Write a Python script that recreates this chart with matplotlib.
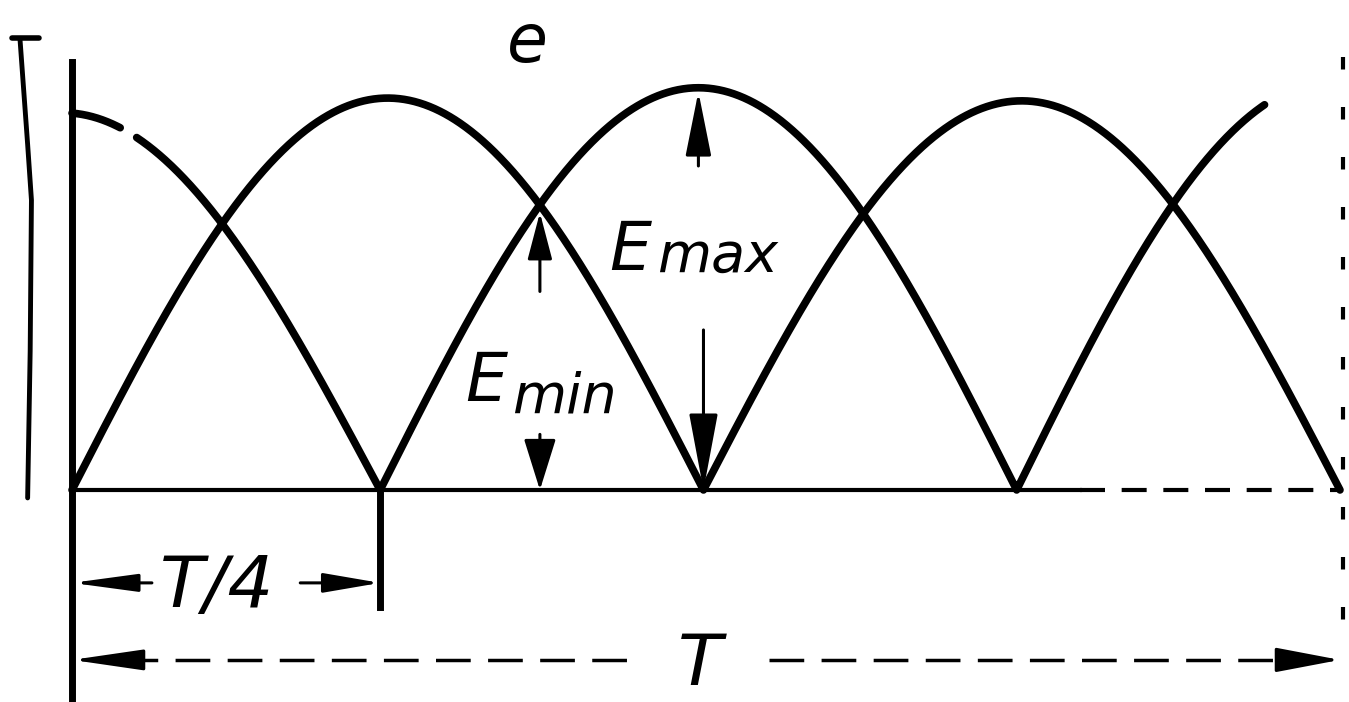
import numpy as np
import matplotlib
matplotlib.use("Agg")
import matplotlib.pyplot as plt

# two rectified phases, time in units of T, voltage in units of Emax
phase_a_zeros = [-0.257, 0.243, 0.745, 1.245]
phase_a_peaks = [0.95, 1.013, 1.03]
phase_b_zeros = [0.0, 0.498, 1.0]
phase_b_peaks = [0.987, 0.98]
phase_a_shown = (0.0, 0.941)
phase_a_gap = (0.038, 0.051)

quarter_label = "T/4"
period_label = "T"
axis_label = "e"


def lobes(t, zeros, peaks):
    e = np.full_like(t, np.nan)
    for a, b, p in zip(zeros[:-1], zeros[1:], peaks):
        m = (t >= a) & (t <= b)
        e[m] = p * np.sin(np.pi * (t[m] - a) / (b - a))
    return e


def arrow(ax, tip, tail, hl, hw, lw=2.2):
    ax.annotate("", xy=tip, xytext=tail,
                arrowprops=dict(arrowstyle=f"-|>,head_length={hl},head_width={hw}",
                                color="black", lw=lw, shrinkA=0, shrinkB=0,
                                mutation_scale=20))


fig = plt.figure(figsize=(13.49, 7.02), dpi=100)
ax = fig.add_axes([0, 0, 1, 1])
ax.set_xlim(-0.0568, 1.0071)
ax.set_ylim(-0.534, 1.234)
ax.axis("off")

ink = dict(color="black", solid_capstyle="round")

# curves
t = np.linspace(0, 1, 2001)
ea = lobes(t, phase_a_zeros, phase_a_peaks)
ea[(t < phase_a_shown[0]) | (t > phase_a_shown[1])] = np.nan
ea[(t > phase_a_gap[0]) & (t < phase_a_gap[1])] = np.nan
eb = lobes(t, phase_b_zeros, phase_b_peaks)
ax.plot(t, ea, lw=5.5, **ink)
ax.plot(t, eb, lw=5.5, **ink)

# e axis and time axis
ax.plot([0, 0], [1.078, -0.6], lw=5, color="black")
ax.plot([0, 0.795], [0, 0], lw=3, color="black")
ax.plot([0.795, 1.0], [0, 0], lw=3, color="black", dashes=(6, 4))

# ruled edges of the sheet
ax.plot([-0.047, -0.026], [1.139, 1.139], lw=4, **ink)
ax.plot([-0.041, -0.035, -0.032, -0.033, -0.035],
        [1.134, 0.87, 0.73, 0.35, -0.02], lw=3.5, **ink)
ax.plot([1.002, 1.002], [1.09, -0.4], lw=3, color="black", dashes=(3, 9))

# Emax / Emin
cross = np.nanargmin(np.where((t > 0.3) & (t < 0.45), np.abs(ea - eb), np.inf))
t_cross, e_cross = t[cross], max(ea[cross], eb[cross])
peak_t = (phase_a_zeros[1] + phase_a_zeros[2]) / 2
arrow(ax, (peak_t, phase_a_peaks[1] - 0.01), (peak_t, 0.816), 2.0, 0.4)
arrow(ax, (phase_b_zeros[1], 0.0), (phase_b_zeros[1], 0.403), 2.4, 0.45)
arrow(ax, (t_cross, e_cross - 0.02), (t_cross, 0.5), 1.45, 0.38)
arrow(ax, (t_cross, 0.0), (t_cross, 0.14), 1.6, 0.5)

txt = dict(family="DejaVu Sans", style="italic", color="black", va="baseline")
ax.text(0.457, 0.554, "E", fontsize=48, ha="right", **txt)
ax.text(0.461, 0.549, "max", fontsize=40, ha="left", **txt)
ax.text(0.343, 0.224, "E", fontsize=48, ha="right", **txt)
ax.text(0.347, 0.196, "min", fontsize=40, ha="left", **txt)
ax.text(0.359, 1.078, axis_label, fontsize=48, ha="center", **txt)

# T/4 dimension
q = phase_a_zeros[1]
y_q = -0.234
ax.plot([q, q], [0, -0.295], lw=5, color="black")
arrow(ax, (0, y_q), (0.063, y_q), 2.0, 0.27)
arrow(ax, (q, y_q), (0.18, y_q), 1.75, 0.3)
ax.text(q / 2 - 0.007, -0.295, quarter_label, fontsize=52, ha="center", **txt)

# T dimension, dashed line broken around the label
y_p = -0.428
ax.plot([0.04, 0.45], [y_p, y_p], lw=2.5, color="black", dashes=(10, 5))
ax.plot([0.55, 0.96], [y_p, y_p], lw=2.5, color="black", dashes=(10, 5))
arrow(ax, (0, y_p), (0.052, y_p), 2.2, 0.32)
arrow(ax, (1.0, y_p), (0.955, y_p), 2.0, 0.38)
ax.text(0.495, -0.49, period_label, fontsize=52, ha="center", **txt)

fig.savefig("out.png", dpi=100, facecolor="white")
